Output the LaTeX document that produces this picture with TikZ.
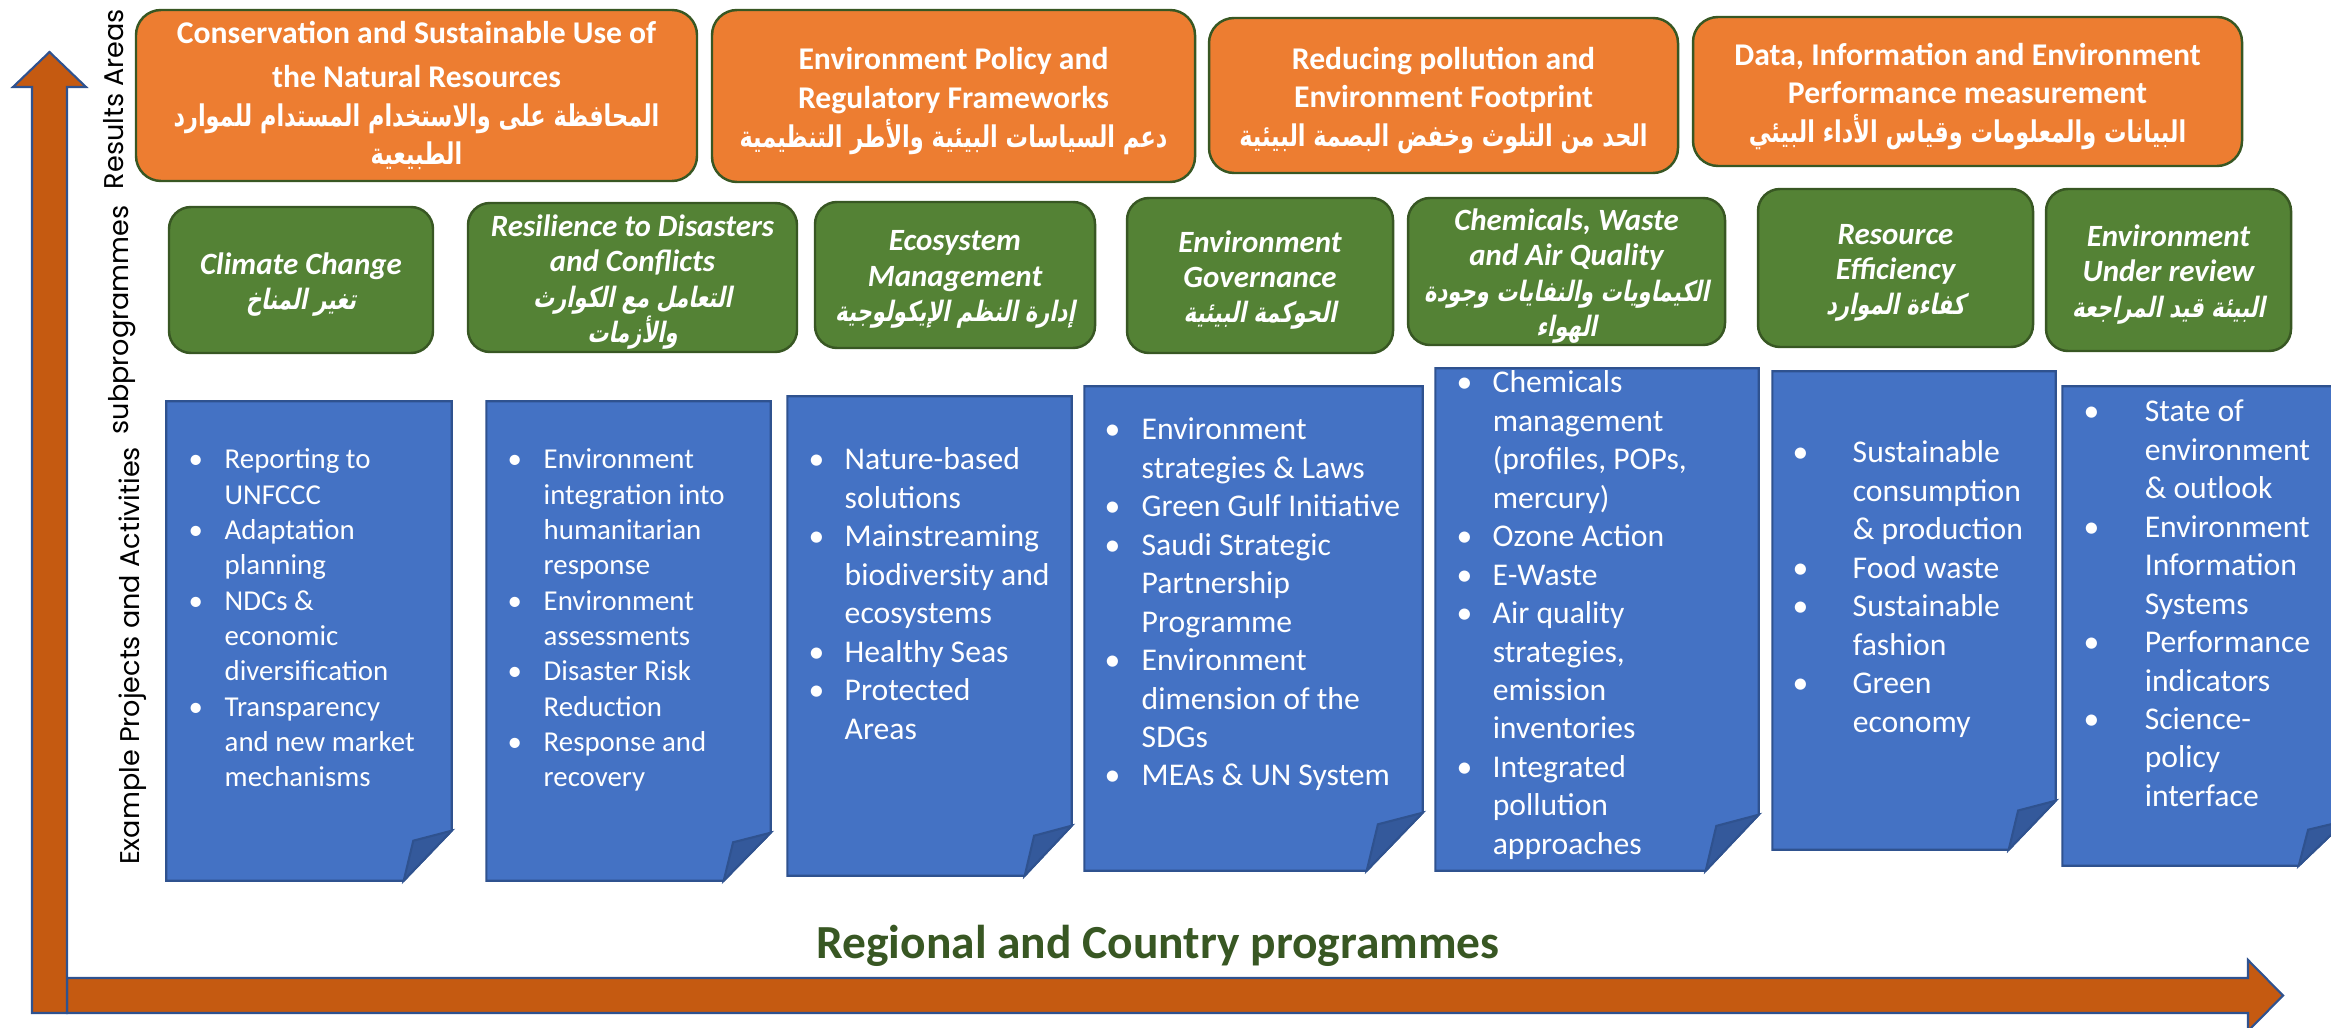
\documentclass[tikz,border=0pt]{standalone}
\usepackage{fontspec}
\setmainfont{Carlito}
\newfontfamily\axisfont{Poppins}
\newfontfamily\arabicfont[Script=Arabic,FakeStretch=0.75]{DejaVu Sans}
\newfontfamily\arabicslant[Script=Arabic,FakeStretch=0.75,FakeSlant=0.2]{DejaVu Sans}
\TeXXeTstate=1
\usepackage{tikz}
\usetikzlibrary{positioning, fit, backgrounds, calc}
\definecolor{resorange}{HTML}{ED7D31}
\definecolor{subgreen}{HTML}{548235}
\definecolor{darkgreen}{HTML}{385723}
\definecolor{noteblue}{HTML}{4472C4}
\definecolor{noteedge}{HTML}{2F528F}
\definecolor{notefold}{HTML}{34599B}
\definecolor{axisbrown}{HTML}{C55A11}
\newcommand{\artxt}{\arabicfont\bfseries\upshape\fontsize{8.5}{10}\selectfont}
\newcommand{\artsl}{\arabicslant\bfseries\upshape\fontsize{8}{9}\selectfont}
\tikzset{
  resultbox/.style={rectangle, draw=darkgreen, line width=0.7pt, fill=resorange, rounded corners=0.25cm, inner sep=0pt},
  resultlabel/.style={text=white, align=center, inner sep=0pt, yshift=-1.4pt, font=\fontsize{9}{11}\selectfont\bfseries},
  subbox/.style={rectangle, draw=darkgreen, line width=0.7pt, fill=subgreen, rounded corners=0.22cm, inner sep=0pt},
  sublabel/.style={text=white, align=center, inner sep=0pt, yshift=-1.3pt, font=\fontsize{8.8}{10}\selectfont\bfseries\itshape},
  notebox/.style={rectangle, inner sep=0pt},
  notetext/.style={text=white, inner sep=0pt, anchor=base west, font=\fontsize{9}{10.93}\selectfont},
  smallnote/.style={notetext, font=\fontsize{8.2}{10.04}\selectfont},
  notefill/.style={fill=noteblue, draw=noteedge, line width=0.6pt},
  foldfill/.style={fill=notefold, draw=noteedge, line width=0.6pt},
  axisarrow/.style={fill=axisbrown, draw=noteedge, line width=0.6pt},
  axislabel/.style={rotate=90, anchor=base, inner sep=0pt, font=\axisfont\fontsize{7.7}{8}\selectfont},
  progtitle/.style={anchor=base, inner sep=0pt, text=darkgreen, font=\fontsize{13.5}{16}\selectfont\bfseries},
}

\begin{document}
\begin{tikzpicture}[x=0.01cm, y=-0.01cm]
  \useasboundingbox (0,0) rectangle (2331,1028);
  % results areas
  \node[resultbox, fit={(136,10) (697,181)}, label={[resultlabel, yshift=1.4pt]center:{Conservation and Sustainable Use of\\[1.5pt]the Natural Resources\\{\artxt\beginR المحافظة على والاستخدام المستدام للموارد\endR}\\{\artxt\beginR الطبيعية\endR}}}] (r1) {};
  \node[resultbox, fit={(712,10) (1195,182)}, label={[resultlabel]center:{Environment Policy and\\Regulatory Frameworks\\{\artxt\beginR دعم السياسات البيئية والأطر التنظيمية\endR}}}] (r2) {};
  \node[resultbox, fit={(1209,18) (1678,173)}, label={[resultlabel]center:{Reducing pollution and\\Environment Footprint\\{\artxt\beginR الحد من التلوث وخفض البصمة البيئية\endR}}}] (r3) {};
  \node[resultbox, fit={(1693,17) (2242,166)}, label={[resultlabel]center:{Data, Information and Environment\\Performance measurement\\{\artxt\beginR البيانات والمعلومات وقياس الأداء البيئي\endR}}}] (r4) {};
  % subprogrammes
  \node[subbox, fit={(169,207) (433,353)}, label={[sublabel]center:{Climate Change\\{\artsl\beginR تغير المناخ\endR}}}] (g1) {};
  \node[subbox, fit={(468,203) (797,352)}, label={[sublabel]center:{Resilience to Disasters\\and Conflicts\\{\artsl\beginR التعامل مع الكوارث\endR}\\{\artsl\beginR والأزمات\endR}}}] (g2) {};
  \node[subbox, fit={(815,202) (1095,348)}, label={[sublabel]center:{Ecosystem\\Management\\{\artsl\beginR إدارة النظم الإيكولوجية\endR}}}] (g3) {};
  \node[subbox, fit={(1127,198) (1393,353)}, label={[sublabel]center:{Environment\\Governance\\{\artsl\beginR الحوكمة البيئية\endR}}}] (g4) {};
  \node[subbox, fit={(1408,198) (1725,345)}, label={[sublabel]center:{Chemicals, Waste\\and Air Quality\\{\artsl\beginR الكيماويات والنفايات وجودة\endR}\\{\artsl\beginR الهواء\endR}}}] (g5) {};
  \node[subbox, fit={(1758,189) (2033,347)}, label={[sublabel]center:{Resource\\Efficiency\\{\artsl\beginR كفاءة الموارد\endR}}}] (g6) {};
  \node[subbox, fit={(2046,189) (2291,351)}, label={[sublabel]center:{Environment\\Under review\\{\artsl\beginR البيئة قيد المراجعة\endR}}}] (g7) {};
  % example projects (folded notes)
  \node[notebox, fit={(167,402) (451,880)}] (b1) {};
  \node[notebox, fit={(487,402) (770,880)}] (b2) {};
  \node[notebox, fit={(788,397) (1071,875)}] (b3) {};
  \node[notebox, fit={(1085,387) (1422,870)}] (b4) {};
  \node[notebox, fit={(1436,369) (1758,870)}] (b5) {};
  \node[notebox, fit={(1773,372) (2055,849)}] (b6) {};
  \node[notebox, fit={(2063,387) (2345,865)}] (b7) {};
  \node[smallnote] (t1) at (188,469) {\begin{tabular}[t]{@{}p{0.36cm}@{}l@{}}
    \textbullet & Reporting to\\ & UNFCCC\\
    \textbullet & Adaptation\\ & planning\\
    \textbullet & NDCs \&\\ & economic\\ & diversification\\
    \textbullet & Transparency\\ & and new market\\ & mechanisms
  \end{tabular}};
  \node[smallnote] (t2) at (507,469) {\begin{tabular}[t]{@{}p{0.36cm}@{}l@{}}
    \textbullet & Environment\\ & integration into\\ & humanitarian\\ & response\\
    \textbullet & Environment\\ & assessments\\
    \textbullet & Disaster Risk\\ & Reduction\\
    \textbullet & Response and\\ & recovery
  \end{tabular}};
  \node[notetext] (t3) at (808,470) {\begin{tabular}[t]{@{}p{0.36cm}@{}l@{}}
    \textbullet & Nature-based\\ & solutions\\
    \textbullet & Mainstreaming\\ & biodiversity and\\ & ecosystems\\
    \textbullet & Healthy Seas\\
    \textbullet & Protected\\ & Areas
  \end{tabular}};
  \node[notetext] (t4) at (1104,440) {\begin{tabular}[t]{@{}p{0.37cm}@{}l@{}}
    \textbullet & Environment\\ & strategies \& Laws\\
    \textbullet & Green Gulf Initiative\\
    \textbullet & Saudi Strategic\\ & Partnership\\ & Programme\\
    \textbullet & Environment\\ & dimension of the\\ & SDGs\\
    \textbullet & MEAs \& UN System
  \end{tabular}};
  \node[notetext] (t5) at (1456,393) {\begin{tabular}[t]{@{}p{0.36cm}@{}l@{}}
    \textbullet & Chemicals\\ & management\\ & (profiles, POPs,\\ & mercury)\\
    \textbullet & Ozone Action\\
    \textbullet & E-Waste\\
    \textbullet & Air quality\\ & strategies,\\ & emission\\ & inventories\\
    \textbullet & Integrated\\ & pollution\\ & approaches
  \end{tabular}};
  \node[notetext] (t6) at (1792,463) {\begin{tabular}[t]{@{}p{0.6cm}@{}l@{}}
    \textbullet & Sustainable\\ & consumption\\ & \& production\\
    \textbullet & Food waste\\
    \textbullet & Sustainable\\ & fashion\\
    \textbullet & Green\\ & economy
  \end{tabular}};
  \node[notetext] (t7) at (2083,422) {\begin{tabular}[t]{@{}p{0.61cm}@{}l@{}}
    \textbullet & State of\\ & environment\\ & \& outlook\\
    \textbullet & Environment\\ & Information\\ & Systems\\
    \textbullet & Performance\\ & indicators\\
    \textbullet & Science-\\ & policy\\ & interface
  \end{tabular}};
  % axes and their labels
  \node[axislabel] (lres) at (123,99) {Results Areas};
  \node[axislabel] (lsub) at (128,320) {subprogrammes};
  \node[axislabel] (lact) at (139,656) {Example Projects and Activities};
  \node[progtitle] (prog) at (1158,958) {Regional and Country programmes};
  \begin{scope}[on background layer]
    \filldraw[axisarrow] (67,978) -- (2248,978) -- (2248,960) -- (2283,995.5) -- (2248,1031) -- (2248,1013) -- (67,1013) -- cycle;
    \filldraw[axisarrow] (32,1013) -- (32,87) -- (13,87) -- (49.5,52) -- (86,87) -- (67,87) -- (67,1013) -- cycle;
    \foreach \nb/\fw/\fh in {b1/48/50, b2/47/48, b3/47/50, b4/56/58, b5/53/56, b6/47/49, b7/47/45} {
      \filldraw[notefill] (\nb.north west) -- (\nb.north east) -- ($(\nb.south east)+(0,-\fh)$) -- ($(\nb.south east)+(-\fw,0)$) -- (\nb.south west) -- cycle;
      \filldraw[foldfill] ($(\nb.south east)+(-\fw,0)$) -- ($(\nb.south east)+(-0.8*\fw,-0.8*\fh)$) -- ($(\nb.south east)+(0,-\fh)$) -- cycle;
    }
  \end{scope}
\end{tikzpicture}
\end{document}
